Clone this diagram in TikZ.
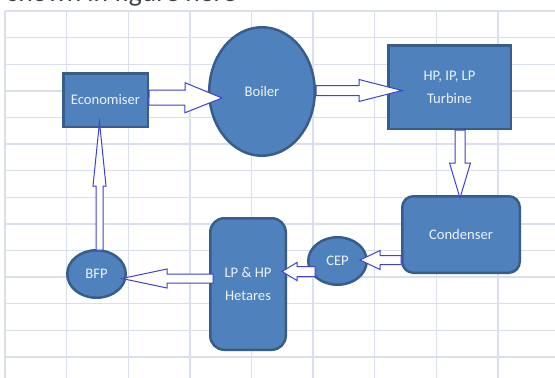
\documentclass[tikz,border=0pt]{standalone}
\usepackage{fontspec}
\setmainfont{Carlito}
\usepackage{tikz}
\usetikzlibrary{calc,shapes.geometric}
\definecolor{boxfill}{HTML}{4F81BD}
\definecolor{boxline}{HTML}{385D8A}
\definecolor{boxtext}{HTML}{EEF2F8}
\definecolor{flowblue}{HTML}{4040D8}
\definecolor{gridline}{HTML}{D9DFEC}
\tikzset{
  blk/.style={rectangle,draw=boxline,line width=2.5pt,fill=boxfill,text=boxtext,inner sep=0pt,
    font=\fontsize{14.6}{23}\selectfont,align=center},
  rblk/.style={blk,rounded corners=11pt},
  oval/.style={blk,ellipse},
  flow/.style={draw=flowblue,line width=1pt,fill=white,line join=miter}
}
% hollow block arrow: start, tip, shaft half width, head half width, head length
\newcommand{\flowarr}[5]{%
  \coordinate (hb) at ($(#2)!#5!(#1)$);
  \draw[flow] ($(#1)!#3!90:(#2)$) -- ($(hb)!#3!90:(#2)$) -- ($(hb)!#4!90:(#2)$) -- (#2)
    -- ($(hb)!#4!-90:(#2)$) -- ($(hb)!#3!-90:(#2)$) -- ($(#1)!#3!-90:(#2)$) -- cycle;}

\begin{document}
\begin{tikzpicture}[x=1pt,y=-1pt]
\useasboundingbox[fill=white] (0,0) rectangle (555,378);
% sheet grid
\foreach \k in {0,...,8}{\draw[gridline,line width=1.4pt] (5+61.6*\k,11) -- (5+61.6*\k,378);}
\foreach \k in {0,...,13}{\draw[gridline,line width=1.4pt] (5,11+26.6*\k) -- (555,11+26.6*\k);}
\node[anchor=base west,text=black!75,font=\fontsize{27.5}{30}\selectfont] (cap) at (4,1.5) {shown in figure here};

\node[blk,minimum width=84.5,minimum height=53.5] (eco) at (105.5,100) {Economiser};
\node[oval,minimum width=105.5,minimum height=128.5] (boiler) at (262,91.5) {Boiler};
\node[blk,minimum width=122.5,minimum height=83.5] (turb) at (449.5,87) {HP, IP, LP\\Turbine};
\node[rblk,minimum width=117.5,minimum height=76.5] (cond) at (461,234.5) {Condenser};
\node[oval,minimum width=58.5,minimum height=47.5] (cep) at (337.5,261) {CEP};
\node[rblk,rounded corners=14pt,minimum width=75.5,minimum height=131.5] (heat) at (248,284) {LP \& HP\\Hetares};
\node[oval,minimum width=58.5,minimum height=47.5] (bfp) at (96.5,274) {BFP};

\coordinate (s1) at ($(eco.east)+(0,-2.5)$);
\coordinate (t1) at ($(boiler.west)+(14,6.5)$);
\coordinate (s2) at ($(boiler.east)+(0,-1)$);
\coordinate (t2) at ($(turb.west)+(15,3.5)$);
\coordinate (s3) at ($(turb.south)+(10.5,0)$);
\coordinate (t3) at ($(cond.north)+(-1,3)$);
\coordinate (s4) at ($(cond.west)+(0,25.5)$);
\coordinate (t4) at ($(cep.east)+(-8,-1)$);
\coordinate (s5) at ($(cep.west)+(8,10.5)$);
\coordinate (t5) at ($(heat.east)+(-5,-12.5)$);
\coordinate (s6) at ($(heat.west)+(4,-5.5)$);
\coordinate (t6) at ($(bfp.east)+(-5,4.5)$);
\coordinate (s7) at ($(bfp.north)+(3,1)$);
\coordinate (t7) at ($(eco.south)+(-6,-6)$);

\flowarr{s1}{t1}{7.5pt}{15pt}{37pt}
\flowarr{s2}{t2}{5pt}{11pt}{43pt}
\flowarr{s3}{t3}{5pt}{10.5pt}{35pt}
\flowarr{s4}{t4}{4.5pt}{9.5pt}{20pt}
\flowarr{s5}{t5}{5pt}{9pt}{15pt}
\flowarr{s6}{t6}{4.5pt}{9.5pt}{45pt}
\flowarr{s7}{t7}{3.5pt}{6.5pt}{64pt}
\end{tikzpicture}
\end{document}
